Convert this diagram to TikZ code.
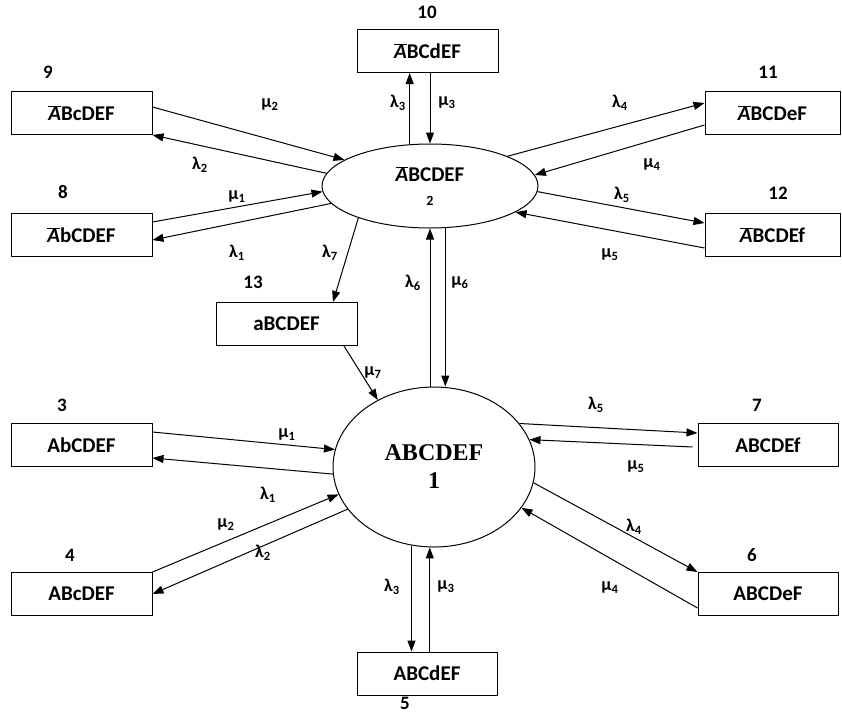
\documentclass[tikz,border=0pt]{standalone}
\usepackage{fontspec}
\setmainfont{Carlito}
\newfontfamily\bigserif{Liberation Serif}
\usetikzlibrary{arrows.meta,shapes.geometric}

\newcommand{\bA}{$\overline{\mbox{\itshape A}}$}
\newcommand{\rlam}[1]{λ\textsubscript{#1}}
\newcommand{\rmu}[1]{μ\textsubscript{#1}}

\begin{document}
\begin{tikzpicture}[x=1pt,y=-1pt,font=\bfseries\fontsize{21}{24}\selectfont,
    box/.style={draw,line width=1pt,minimum width=141pt,minimum height=43pt,inner sep=0pt},
    arr/.style={-{Triangle[length=11pt,width=8pt]},line width=1pt},
    num/.style={font=\bfseries\fontsize{19}{22}\selectfont},
    rate/.style={font=\bfseries\fontsize{18}{20}\selectfont}]

  \useasboundingbox (0,0) rectangle (842,718);

  % the two central states
  \node[draw,ellipse,line width=1pt,minimum width=216pt,minimum height=84pt,
        inner sep=0pt,align=center] (e2) at (430,186)
        {\bA BCDEF\\[0pt]{\fontsize{14}{16}\selectfont 2}};
  \node[draw,ellipse,line width=1pt,minimum width=202pt,minimum height=160pt,
        inner sep=0pt,align=center,font=\bigserif\bfseries\fontsize{24}{28}\selectfont]
        (c1) at (434,467) {ABCDEF\\1};

  % states around state 2
  \node[box] (b10) at (427.5,51) {\bA BCdEF};
  \node[box] (b9) at (81.5,113) {\bA BcDEF};
  \node[box] (b8) at (81.5,235) {\bA bCDEF};
  \node[box,minimum width=135pt] (b11) at (772.5,113) {\bA BCDeF};
  \node[box,minimum width=135pt] (b12) at (772.5,235) {\bA BCDEf};
  \node[box] (b13) at (286.5,324) {aBCDEF};

  % states around state 1
  \node[box] (b3) at (81.5,445) {AbCDEF};
  \node[box] (b4) at (81.5,594) {ABcDEF};
  \node[box,minimum width=140pt] (b5) at (427,673.5) {ABCdEF};
  \node[box,minimum width=140pt] (b7) at (768,445) {ABCDEf};
  \node[box,minimum width=140pt] (b6) at (768,594) {ABCDeF};

  % state numbers
  \node[num] (n10) at (427,12) {10};
  \node[num] (n9) at (48,72) {9};
  \node[num] (n8) at (63,192) {8};
  \node[num] (n11) at (768,72) {11};
  \node[num] (n12) at (778,193) {12};
  \node[num] (n13) at (253,282) {13};
  \node[num] (n3) at (62,405) {3};
  \node[num] (n4) at (70,555) {4};
  \node[num] (n5) at (405,703) {5};
  \node[num] (n6) at (752,555) {6};
  \node[num] (n7) at (757,405) {7};

  % transitions of state 2
  \draw[arr] ([yshift=6pt]b9.east) -- (e2.163);
  \draw[arr] (e2.173) -- (b9.south east);
  \draw[arr] ([yshift=13pt]b8.east) -- (e2.183);
  \draw[arr] (e2.190) -- ([yshift=-5pt]b8.east);
  \draw[arr] (e2.204) -- ([xshift=46.5pt]b13.north);
  \draw[arr] ([xshift=57.5pt]b13.south) -- (c1.130);
  \draw[arr] (e2.116) -- (e2.116 |- b10.south);
  \draw[arr] (b10.south -| e2.north) -- (e2.north);
  \draw[arr] (e2.21) -- ([yshift=10pt]b11.west);
  \draw[arr] ([yshift=-12pt]b11.west) -- (e2.6);
  \draw[arr] (e2.357) -- ([yshift=12pt]b12.west);
  \draw[arr] ([yshift=-13pt]b12.west) -- (e2.343);
  \draw[arr] (e2.south |- c1.north) -- (e2.south);
  \draw[arr] (e2.290) -- (e2.290 |- c1.north);

  % transitions of state 1
  \draw[arr] ([yshift=13pt]b3.east) -- (c1.170);
  \draw[arr] (c1.184) -- ([yshift=-13pt]b3.east);
  \draw[arr] (b4.north east) -- (c1.196);
  \draw[arr] (c1.206) -- (b4.east);
  \draw[arr] (c1.254) -- (c1.254 |- b5.north);
  \draw[arr] (c1.267 |- b5.north) -- (c1.267);
  \draw[arr] (c1.27) -- ([yshift=12pt]b7.west);
  \draw[arr] ([xshift=-5pt,yshift=-2pt]b7.west) -- (c1.16);
  \draw[arr] (c1.351) -- (b6.north west);
  \draw[arr] ([yshift=-14pt]b6.west) -- (c1.335);

  % rates, upper half
  \node[rate] (lt3) at (398,103) {\rlam{3}};
  \node[rate] (mt3) at (447,103) {\rmu{3}};
  \node[rate] (mt2) at (270,105) {\rmu{2}};
  \node[rate] (lt2) at (200,165) {\rlam{2}};
  \node[rate] (mt1) at (237,197) {\rmu{1}};
  \node[rate] (lt1) at (237,253) {\rlam{1}};
  \node[rate] (lt7) at (330,253) {\rlam{7}};
  \node[rate] (mt7) at (373,373) {\rmu{7}};
  \node[rate] (lt6) at (413,283) {\rlam{6}};
  \node[rate] (mt6) at (460,283) {\rmu{6}};
  \node[rate] (lt4) at (620,103) {\rlam{4}};
  \node[rate] (mt4) at (652,165) {\rmu{4}};
  \node[rate] (lt5) at (622,195) {\rlam{5}};
  \node[rate] (mt5) at (610,255) {\rmu{5}};

  % rates, lower half
  \node[rate] (mb1) at (287,435) {\rmu{1}};
  \node[rate] (lb1) at (268,495) {\rlam{1}};
  \node[rate] (mb2) at (226,525) {\rmu{2}};
  \node[rate] (lb2) at (263,553) {\rlam{2}};
  \node[rate] (lb3) at (392,587) {\rlam{3}};
  \node[rate] (mb3) at (446,587) {\rmu{3}};
  \node[rate] (lb5) at (596,405) {\rlam{5}};
  \node[rate] (mb5) at (636,467) {\rmu{5}};
  \node[rate] (lb4) at (634,527) {\rlam{4}};
  \node[rate] (mb4) at (610,588) {\rmu{4}};
\end{tikzpicture}
\end{document}
